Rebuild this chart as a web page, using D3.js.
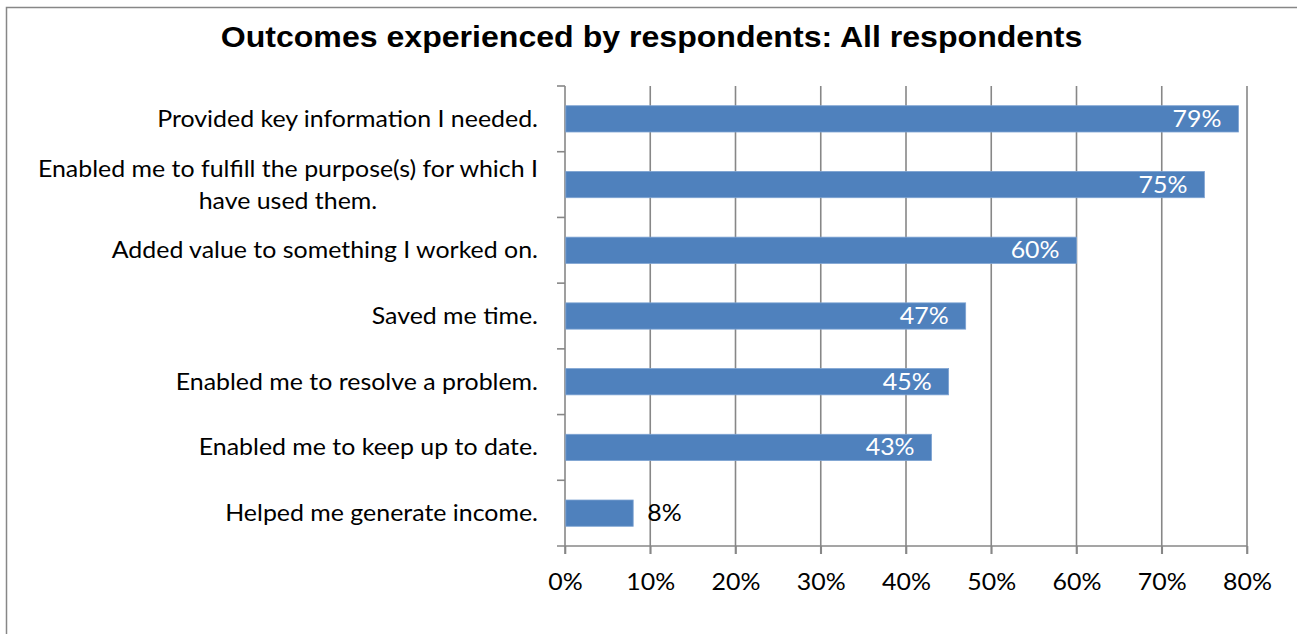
<!DOCTYPE html>
<html>
<head>
<meta charset="utf-8">
<script src="https://cdn.jsdelivr.net/npm/d3@7"></script>
<style>
  html, body { margin: 0; padding: 0; background: #fff; }
  svg { display: block; }
</style>
</head>
<body>
<svg id="chart" width="1297" height="634"></svg>
<script>
// Survey outcomes, share of all respondents (%)
const categories = [
  "Provided key information I needed.",
  "Enabled me to fulfill the purpose(s) for which I have used them.",
  "Added value to something I worked on.",
  "Saved me time.",
  "Enabled me to resolve a problem.",
  "Enabled me to keep up to date.",
  "Helped me generate income."
];
const values = [79, 75, 60, 47, 45, 43, 8];
const xTicks = [0, 10, 20, 30, 40, 50, 60, 70, 80];
const titleText = "Outcomes experienced by respondents: All respondents";

const svg = d3.select("#chart");
const W = 1297, H = 634;
const margin = { left: 565, top: 86 };
const plotBottom = 546, plotRight = 1247;
const gridColor = "#878787";
const barColor = "#4f81bd";
const labelFont = "Lato, 'Open Sans', sans-serif";
const labelSize = 23.3;
const stretch = 1.07;   // text is set slightly wide

// place a horizontally widened text at (x, y)
function wideText(parent, x, y, str, anchor) {
  return parent.append("text")
    .attr("transform", `translate(${x},${y}) scale(${stretch},1)`)
    .attr("text-anchor", anchor)
    .attr("font-family", labelFont)
    .attr("font-size", labelSize)
    .attr("fill", "#000")
    .text(str);
}

// chart frame
svg.append("rect")
  .attr("x", 6.5).attr("y", 7.5)
  .attr("width", W + 10).attr("height", H + 10)
  .attr("fill", "none").attr("stroke", gridColor).attr("stroke-width", 1.5);

svg.append("text")
  .attr("transform", `translate(651.5,47) scale(${stretch},1)`)
  .attr("text-anchor", "middle")
  .attr("font-family", "'Liberation Sans', Arial, sans-serif")
  .attr("font-weight", "bold")
  .attr("font-size", 30)
  .attr("fill", "#000")
  .text(titleText);

const x = d3.scaleLinear().domain([0, 80]).range([margin.left, plotRight]);
const y = d3.scaleBand().domain(categories).range([margin.top, plotBottom]).paddingInner(0.6).paddingOuter(0.3);
const step = y.step();

// vertical gridlines with tick marks below the axis
svg.append("g")
  .selectAll("line")
  .data(xTicks.filter(d => d > 0))
  .join("line")
  .attr("x1", d => x(d)).attr("x2", d => x(d))
  .attr("y1", margin.top).attr("y2", plotBottom + 8)
  .attr("stroke", gridColor).attr("stroke-width", 1.6);

// bottom axis
const xAxis = svg.append("g")
  .attr("transform", `translate(0,${plotBottom})`)
  .call(d3.axisBottom(x).tickValues(xTicks).tickFormat(d => d + "%").tickSize(8).tickPadding(0).tickSizeOuter(0));
xAxis.select(".domain").remove();
xAxis.selectAll(".tick line").attr("stroke", gridColor).attr("stroke-width", 1.6);
xAxis.selectAll(".tick text")
  .attr("y", null).attr("dy", null)
  .attr("transform", `translate(0,44) scale(${stretch},1)`)
  .attr("font-family", labelFont).attr("font-size", labelSize).attr("fill", "#000");
svg.append("line")
  .attr("x1", margin.left - 8).attr("x2", x(80)).attr("y1", plotBottom).attr("y2", plotBottom)
  .attr("stroke", gridColor).attr("stroke-width", 1.6);

// left axis with tick marks at category boundaries
svg.append("line")
  .attr("x1", margin.left).attr("x2", margin.left).attr("y1", margin.top).attr("y2", plotBottom + 8)
  .attr("stroke", gridColor).attr("stroke-width", 1.6);
svg.append("g")
  .selectAll("line")
  .data(d3.range(categories.length))
  .join("line")
  .attr("x1", margin.left - 8).attr("x2", margin.left)
  .attr("y1", i => margin.top + i * step).attr("y2", i => margin.top + i * step)
  .attr("stroke", gridColor).attr("stroke-width", 1.6);

// bars
svg.append("g")
  .selectAll("rect")
  .data(values)
  .join("rect")
  .attr("x", x(0) + 0.8)
  .attr("y", (d, i) => y(categories[i]))
  .attr("width", d => x(d) - x(0) - 0.8)
  .attr("height", y.bandwidth())
  .attr("fill", barColor)
  .attr("stroke", "#7ea3d2").attr("stroke-width", 0.8);

// value labels: inside the bar end, or just outside when the bar is short
const valG = svg.append("g");
values.forEach((d, i) => {
  const cy = y(categories[i]) + y.bandwidth() / 2 + 8;
  const inside = d > 20;
  wideText(valG, inside ? x(d) - 17 : x(d) + 14, cy, d + "%", inside ? "end" : "start")
    .attr("fill", inside ? "#fff" : "#000");
});

// category labels, wrapped for the long one
const wrapped = {
  "Enabled me to fulfill the purpose(s) for which I have used them.":
    ["Enabled me to fulfill the purpose(s) for which I", "have used them."]
};
const catG = svg.append("g");
const labelRight = 538;
categories.forEach(c => {
  const cy = y(c) + y.bandwidth() / 2;
  const lines = wrapped[c] || [c];
  if (lines.length === 1) {
    wideText(catG, labelRight, cy + 8, c, "end");
  } else {
    const first = wideText(catG, labelRight, cy - 8, lines[0], "end");
    const w = first.node().getComputedTextLength() * stretch;
    wideText(catG, labelRight - w / 2, cy + 24, lines[1], "middle");
  }
});
</script>
</body>
</html>
